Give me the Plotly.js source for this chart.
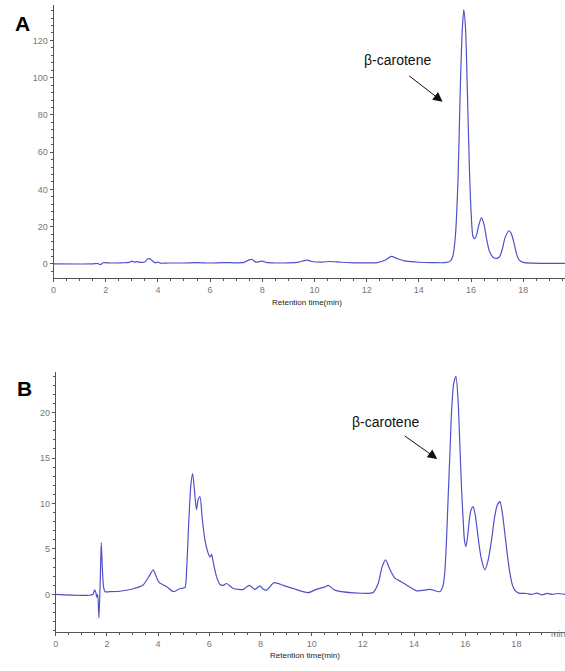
<!DOCTYPE html>
<html>
<head>
<meta charset="utf-8">
<script src="https://cdn.plot.ly/plotly-3.0.1.min.js"></script>
<style>html,body{margin:0;padding:0;background:#fff;}#chart{width:565px;height:671px;}</style>
</head>
<body>
<div id="chart"></div>
<script>
// Panel A: retention time (min) and absorbance
var timeA = [0,1.5,1.7,1.8,1.9,2.2,2.6,2.9,3.0,3.1,3.2,3.35,3.5,3.6,3.7,3.8,3.9,4.0,4.1,4.4,5.0,5.5,6.0,6.5,7.0,7.3,7.5,7.6,7.75,8.0,8.15,8.5,9.0,9.4,9.6,9.75,9.9,10.3,10.6,11.0,11.5,12.0,12.4,12.7,12.95,13.15,13.4,13.7,14.0,14.5,15.0,15.2,15.3,15.4,15.5,15.58,15.65,15.72,15.79,15.86,15.93,16.0,16.07,16.14,16.22,16.3,16.4,16.5,16.6,16.7,16.85,17.0,17.1,17.2,17.3,17.45,17.55,17.65,17.75,17.85,18.0,18.3,19.0,19.6];
var valA  = [0,0,0.2,-0.4,0.6,0.5,0.6,0.8,1.5,1.0,1.2,0.8,1.0,2.6,2.8,1.5,0.6,1.0,0.4,0.5,0.5,0.7,0.5,0.7,0.6,0.8,2.2,2.5,1.0,1.5,0.8,0.5,0.6,1.0,1.8,2.0,1.3,1.0,1.3,0.9,0.6,0.6,0.7,2.0,4.0,3.0,1.8,1.2,0.9,0.7,0.7,1.5,4,15,45,90,122,136.5,126,92,55,28,15,13.5,16,21,24.8,21,13,7,3.5,3,4,8,14,17.8,16,11,5,2,0.8,0.4,0.3,0.3];

// Panel B
var timeB = [0,1.45,1.52,1.57,1.6,1.64,1.69,1.74,1.78,1.82,1.87,1.93,2.1,2.5,3.0,3.4,3.65,3.81,3.95,4.05,4.34,4.6,4.86,5.05,5.12,5.2,5.28,5.35,5.42,5.5,5.57,5.64,5.72,5.83,5.95,6.03,6.09,6.18,6.29,6.42,6.55,6.68,6.94,7.33,7.56,7.79,7.98,8.1,8.24,8.53,8.89,9.28,9.87,10.2,10.5,10.65,10.9,11.63,12.4,12.6,12.75,12.89,13.05,13.25,13.5,14.1,14.62,15.01,15.12,15.2,15.27,15.34,15.41,15.47,15.55,15.64,15.72,15.79,15.86,15.92,15.97,16.03,16.1,16.16,16.23,16.31,16.39,16.47,16.55,16.64,16.77,16.9,17.03,17.15,17.25,17.36,17.45,17.55,17.65,17.75,17.85,17.94,18.1,18.4,18.6,18.8,19.0,19.2,19.4,19.6,19.9];
var valB  = [0,0,0.5,0.2,-0.3,0,-2.6,1.5,5.7,3,0.8,0.3,0.3,0.35,0.6,1.0,2.0,2.7,1.8,1.3,0.85,0.3,0.65,0.75,3,8,12,13.3,11.5,9.3,10.5,10.75,8.5,6.0,4.6,4.1,4.4,3.2,1.9,1.1,1.0,1.2,0.65,0.55,1.0,0.55,0.95,0.6,0.47,1.3,1.0,0.65,0.2,0.58,0.8,1.0,0.47,0.18,0.2,1.2,3.0,3.8,2.8,1.8,1.4,0.4,0.55,0.3,0.8,2.3,6,11.1,16,20.3,23.2,24.0,21.5,16.6,11.5,8.2,6.0,5.25,6.5,8.2,9.3,9.65,8.8,7.1,5.3,3.8,2.7,3.8,6.0,8.5,9.8,10.2,9.0,6.7,4.3,2.3,1.0,0.47,0.15,0.1,0.0,0.15,-0.05,0.12,0.0,0.1,0.0];

var panelLabels = ["A", "B"];
var peakLabel = "β-carotene";
var xTitle = "Retention time(min)";

var W = 565, H = 671;
function px(x){ return x / W; }
function py(y){ return 1 - y / H; }

var lineStyle = {color: '#5050c8', width: 1.2, shape: 'spline', smoothing: 0.6};
var traces = [
  {x: timeA, y: valA, type: 'scatter', mode: 'lines', line: lineStyle, xaxis: 'x', yaxis: 'y', hoverinfo: 'skip'},
  {x: timeB, y: valB, type: 'scatter', mode: 'lines', line: lineStyle, xaxis: 'x2', yaxis: 'y2', hoverinfo: 'skip'}
];

var tickFont = {family: 'Arial, Liberation Sans, sans-serif', size: 9, color: '#777'};
function axisBase(extra){
  var a = {
    showline: true, linecolor: '#555', linewidth: 1,
    ticks: 'outside', ticklen: 3, tickcolor: '#555', tickwidth: 1,
    showgrid: false, zeroline: false, tickfont: tickFont, fixedrange: true
  };
  for (var k in extra) a[k] = extra[k];
  return a;
}

var layout = {
  width: W, height: H,
  margin: {l: 0, r: 0, t: 0, b: 0},
  paper_bgcolor: '#fff', plot_bgcolor: '#fff',
  showlegend: false,
  xaxis: axisBase({domain: [px(53.5), 1], range: [0, 19.6], anchor: 'y', tick0: 0, dtick: 2,
    minor: {dtick: 0.5, ticklen: 2, tickcolor: '#555', ticks: 'outside'}}),
  yaxis: axisBase({domain: [py(277.7), py(5)], range: [-7.4, 139], anchor: 'x', tick0: 0, dtick: 20,
    minor: {dtick: 4, ticklen: 2, tickcolor: '#555', ticks: 'outside'}}),
  xaxis2: axisBase({domain: [px(55.7), 1], range: [0, 19.9], anchor: 'y2', tick0: 0, dtick: 2,
    minor: {dtick: 0.5, ticklen: 2, tickcolor: '#555', ticks: 'outside'}}),
  yaxis2: axisBase({domain: [py(631.7), py(371.7)], range: [-4.1, 24.5], anchor: 'x2', tick0: 0, dtick: 5,
    minor: {dtick: 1, ticklen: 2, tickcolor: '#555', ticks: 'outside'}}),
  annotations: [
    {text: '<b>' + panelLabels[0] + '</b>', xref: 'paper', yref: 'paper', x: px(13), y: py(24), xanchor: 'left', yanchor: 'middle',
      showarrow: false, font: {family: 'Arial, Liberation Sans, sans-serif', size: 21, color: '#000'}},
    {text: '<b>' + panelLabels[1] + '</b>', xref: 'paper', yref: 'paper', x: px(15), y: py(388), xanchor: 'left', yanchor: 'middle',
      showarrow: false, font: {family: 'Arial, Liberation Sans, sans-serif', size: 21, color: '#000'}},
    {text: peakLabel, xref: 'x', yref: 'y', x: 13.18, y: 109.5, showarrow: false,
      font: {family: 'Arial, Liberation Sans, sans-serif', size: 14, color: '#111'}},
    {text: '', xref: 'x', yref: 'y', x: 14.91, y: 87.1, ax: -35, ay: -27, showarrow: true,
      arrowhead: 2, arrowsize: 1.9, arrowwidth: 1, arrowcolor: '#111'},
    {text: peakLabel, xref: 'x2', yref: 'y2', x: 12.9, y: 19.0, showarrow: false,
      font: {family: 'Arial, Liberation Sans, sans-serif', size: 14, color: '#111'}},
    {text: '', xref: 'x2', yref: 'y2', x: 14.91, y: 14.9, ax: -34, ay: -24, showarrow: true,
      arrowhead: 2, arrowsize: 1.9, arrowwidth: 1, arrowcolor: '#111'},
    {text: xTitle, xref: 'paper', yref: 'paper', x: px(307), y: py(302), showarrow: false,
      font: {family: 'Arial, Liberation Sans, sans-serif', size: 8, color: '#222'}},
    {text: xTitle, xref: 'paper', yref: 'paper', x: px(305), y: py(662), showarrow: false,
      font: {family: 'Arial, Liberation Sans, sans-serif', size: 8, color: '#222'}},
    {text: 'min', xref: 'paper', yref: 'paper', x: px(567.7), y: py(641), showarrow: false,
      font: tickFont}
  ]
};

Plotly.newPlot('chart', traces, layout, {displayModeBar: false, staticPlot: true});
</script>
</body>
</html>
